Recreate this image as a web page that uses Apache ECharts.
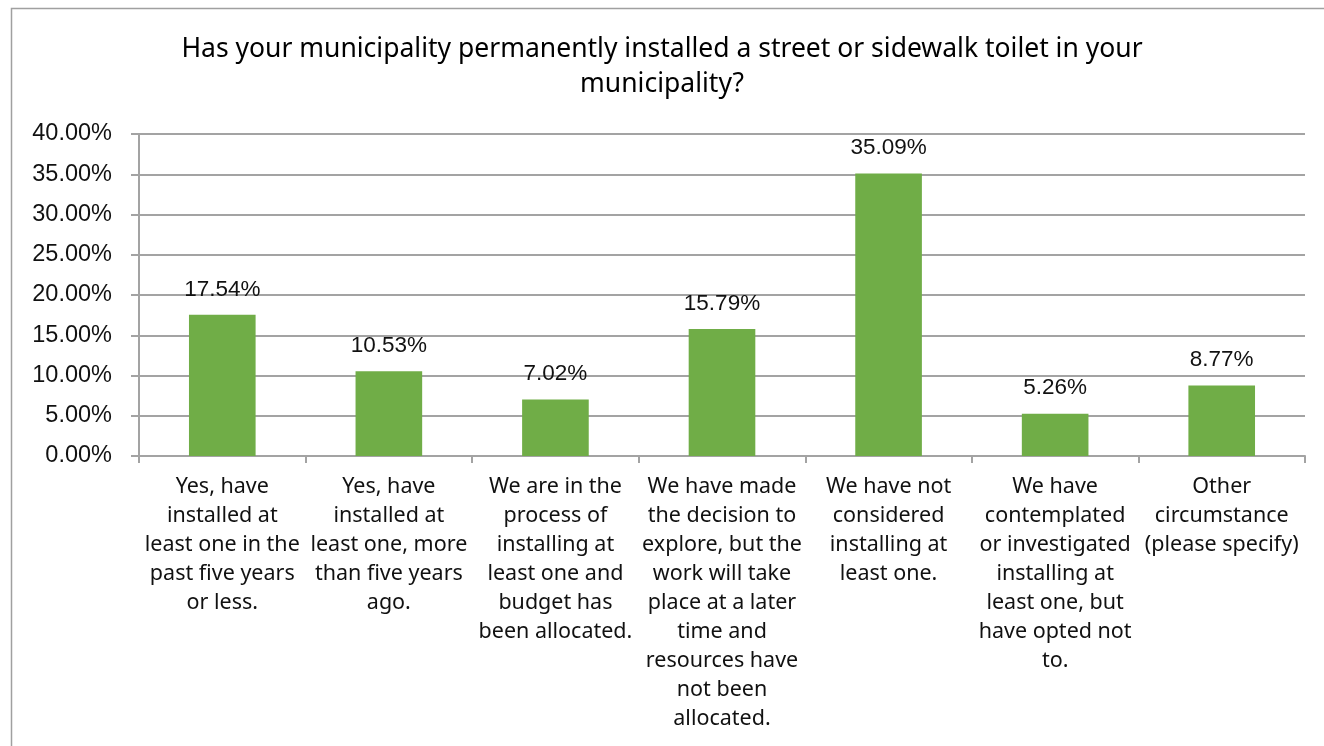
<!DOCTYPE html>
<html>
<head>
<meta charset="utf-8">
<script src="https://cdn.jsdelivr.net/npm/echarts@6/dist/echarts.min.js"></script>
<style>
  html, body { margin: 0; padding: 0; background: #fff; }
  #chart { width: 1324px; height: 746px; }
</style>
</head>
<body>
<div id="chart"></div>
<script>
// Survey answers (category labels are pre-wrapped as they should appear)
const categories = [
  'Yes, have\ninstalled at\nleast one in the\npast five years\nor less.',
  'Yes, have\ninstalled at\nleast one, more\nthan five years\nago.',
  'We are in the\nprocess of\ninstalling at\nleast one and\nbudget has\nbeen allocated.',
  'We have made\nthe decision to\nexplore, but the\nwork will take\nplace at a later\ntime and\nresources have\nnot been\nallocated.',
  'We have not\nconsidered\ninstalling at\nleast one.',
  'We have\ncontemplated\nor investigated\ninstalling at\nleast one, but\nhave opted not\nto.',
  'Other\ncircumstance\n(please specify)'
];

// Share of respondents, in percent
const shares = [17.54, 10.53, 7.02, 15.79, 35.09, 5.26, 8.77];

// Value axis range and step, in percent
const axisMin = 0;
const axisMax = 40;
const axisStep = 5;

const titleText = 'Has your municipality permanently installed a street or sidewalk toilet in your\nmunicipality?';

const uiFont = '"Noto Sans", "Open Sans", sans-serif';
const numFont = '"Liberation Sans", Arial, sans-serif';
const gridColor = '#A3A3A3';

const chart = echarts.init(document.getElementById('chart'), null, { renderer: 'canvas' });

chart.setOption({
  animation: false,
  backgroundColor: '#ffffff',
  title: {
    text: titleText,
    left: 'center',
    top: 27,
    textStyle: {
      fontFamily: uiFont,
      fontSize: 26.5,
      fontWeight: 'normal',
      color: '#000',
      lineHeight: 35
    }
  },
  graphic: [{
    type: 'rect',
    silent: true,
    shape: { x: 11.5, y: 8.5, width: 1400, height: 800 },
    style: { fill: 'none', stroke: '#A0A0A0', lineWidth: 1.5 }
  }],
  grid: {
    left: 139,
    right: 19,
    top: 134,
    bottom: 290,
    containLabel: false
  },
  xAxis: {
    type: 'category',
    data: categories,
    axisLine: { show: true, lineStyle: { color: gridColor, width: 2 } },
    axisTick: { show: true, alignWithLabel: false, length: 7, lineStyle: { color: gridColor, width: 2 } },
    axisLabel: {
      interval: 0,
      margin: 16,
      fontFamily: uiFont,
      fontSize: 21.5,
      lineHeight: 29,
      color: '#111',
      align: 'center',
      verticalAlign: 'top'
    }
  },
  yAxis: {
    type: 'value',
    min: axisMin,
    max: axisMax,
    interval: axisStep,
    axisLine: { show: true, lineStyle: { color: gridColor, width: 2 } },
    axisTick: { show: true, length: 8, lineStyle: { color: gridColor, width: 2 } },
    splitLine: { show: true, lineStyle: { color: gridColor, width: 2 } },
    axisLabel: {
      margin: 27,
      fontFamily: numFont,
      fontSize: 23.5,
      color: '#111',
      formatter: v => v.toFixed(2) + '%'
    }
  },
  series: [{
    type: 'bar',
    data: shares,
    barWidth: '40%',
    itemStyle: { color: '#70AD47' },
    label: {
      show: true,
      position: 'top',
      distance: 14,
      fontFamily: numFont,
      fontSize: 22.5,
      color: '#111',
      formatter: p => p.value.toFixed(2) + '%'
    }
  }]
});
</script>
</body>
</html>
